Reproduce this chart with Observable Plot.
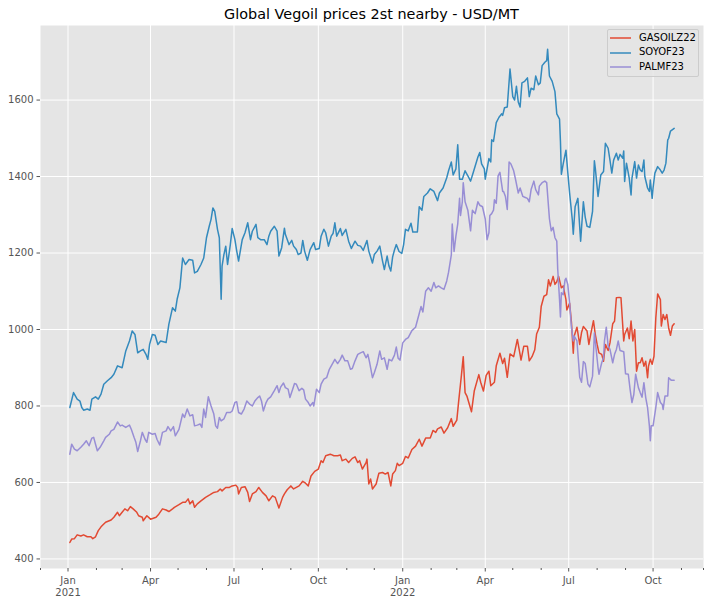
<!DOCTYPE html>
<html>
<head>
<meta charset="utf-8">
<script src="https://cdn.jsdelivr.net/npm/d3@7"></script>
<script src="https://cdn.jsdelivr.net/npm/@observablehq/plot@0.6"></script>
<style>
  html, body { margin: 0; padding: 0; background: #fff; }
  #wrap { position: relative; width: 714px; height: 603px; font-family: "DejaVu Sans", sans-serif; }
  #title { position: absolute; left: 40px; top: 0; width: 663px; height: 25px; box-sizing: border-box; padding-top: 7px;
           text-align: center; font-size: 14.4px; line-height: 1; color: #000; white-space: nowrap; }
  #chart { position: absolute; left: 0; top: 25px; }
  #chart svg { display: block; }
  #legend { position: absolute; left: 607px; top: 29px; width: 92px; height: 48px; box-sizing: border-box;
            border: 1px solid #cccccc; border-radius: 2px; background: rgba(229,229,229,0.85); }
  .lg-sw { position: absolute; left: 1px; width: 23px; height: 4px; overflow: visible; }
  .lg-tx { position: absolute; left: 31px; font-size: 10px; line-height: 12px; color: #000; white-space: nowrap; }
</style>
</head>
<body>
<div id="wrap">
  <div id="title"></div>
  <div id="chart"></div>
  <div id="legend"></div>
</div>
<script>
const chartTitle = "Global Vegoil prices 2st nearby - USD/MT";
const seriesNames = ["GASOILZ22", "SOYOF23", "PALMF23"];
const seriesColors = ["#E24A33", "#348ABD", "#988ED5"];

const yTicks = [400, 600, 800, 1000, 1200, 1400, 1600];
const xMajorTicks = ["2021-01-01", "2021-04-01", "2021-07-01", "2021-10-01", "2022-01-01", "2022-04-01", "2022-07-01", "2022-10-01"];
const xMajorLabels = ["Jan\n2021", "Apr", "Jul", "Oct", "Jan\n2022", "Apr", "Jul", "Oct"];
const xMinorTicks = ["2020-12-02", "2021-02-01", "2021-03-01", "2021-05-01", "2021-06-01", "2021-08-01", "2021-09-01", "2021-11-01", "2021-12-01",
  "2022-02-01", "2022-03-01", "2022-05-01", "2022-06-01", "2022-08-01", "2022-09-01", "2022-11-01", "2022-11-25"];
const xDomain = ["2020-12-02", "2022-11-25"];
const yDomain = [375, 1795];

const gasoil = [
["2021-01-03",443],["2021-01-05",452],["2021-01-08",453],["2021-01-11",463],["2021-01-15",460],["2021-01-18",463],["2021-01-22",458],
["2021-01-26",458],["2021-01-28",453],["2021-01-31",458],["2021-02-03",474],["2021-02-06",484],["2021-02-11",496],["2021-02-17",502],
["2021-02-20",509],["2021-02-24",522],["2021-02-26",513],["2021-03-01",522],["2021-03-04",531],["2021-03-07",526],["2021-03-10",537],
["2021-03-13",531],["2021-03-17",522],["2021-03-19",513],["2021-03-23",509],["2021-03-24",500],["2021-03-28",513],["2021-04-01",504],
["2021-04-07",509],["2021-04-10",517],["2021-04-14",531],["2021-04-18",528],["2021-04-21",524],["2021-04-25",531],["2021-04-27",535],
["2021-05-02",542],["2021-05-06",548],["2021-05-09",548],["2021-05-12",557],["2021-05-14",544],["2021-05-17",552],["2021-05-19",535],
["2021-05-22",544],["2021-05-26",552],["2021-05-31",561],["2021-06-05",568],["2021-06-09",574],["2021-06-13",576],["2021-06-16",583],
["2021-06-18",578],["2021-06-22",587],["2021-06-26",587],["2021-06-29",591],["2021-07-03",593],["2021-07-05",587],["2021-07-06",570],
["2021-07-09",587],["2021-07-13",589],["2021-07-16",574],["2021-07-18",550],["2021-07-21",570],["2021-07-25",576],["2021-07-28",587],
["2021-08-01",574],["2021-08-05",565],["2021-08-08",552],["2021-08-12",565],["2021-08-15",561],["2021-08-19",533],["2021-08-23",561],
["2021-08-25",570],["2021-08-28",581],["2021-09-01",591],["2021-09-04",583],["2021-09-10",591],["2021-09-14",603],["2021-09-17",598],
["2021-09-20",591],["2021-09-23",617],["2021-09-27",629],["2021-10-01",635],["2021-10-04",657],["2021-10-06",652],["2021-10-09",670],
["2021-10-14",674],["2021-10-18",670],["2021-10-22",670],["2021-10-25",672],["2021-10-27",657],["2021-10-31",661],["2021-11-03",652],
["2021-11-07",663],["2021-11-10",667],["2021-11-13",652],["2021-11-15",657],["2021-11-18",635],["2021-11-22",652],["2021-11-23",661],
["2021-11-25",596],["2021-11-27",609],["2021-11-29",583],["2021-12-03",596],["2021-12-06",624],["2021-12-10",626],["2021-12-13",622],
["2021-12-16",626],["2021-12-19",591],["2021-12-21",622],["2021-12-24",631],["2021-12-26",650],["2021-12-28",644],["2022-01-01",650],
["2022-01-04",668],["2022-01-07",664],["2022-01-11",686],["2022-01-15",695],["2022-01-19",713],["2022-01-22",695],["2022-01-26",716],
["2022-01-31",716],["2022-02-03",736],["2022-02-06",731],["2022-02-08",740],["2022-02-12",745],["2022-02-15",729],["2022-02-19",743],
["2022-02-23",767],["2022-02-25",747],["2022-03-01",763],["2022-03-03",812],["2022-03-06",880],["2022-03-08",929],["2022-03-10",835],
["2022-03-12",826],["2022-03-17",785],["2022-03-20",839],["2022-03-25",882],["2022-03-27",862],["2022-03-30",839],["2022-04-02",880],
["2022-04-05",891],["2022-04-07",853],["2022-04-11",862],["2022-04-13",905],["2022-04-17",938],["2022-04-20",911],["2022-04-22",925],
["2022-04-25",875],["2022-04-28",936],["2022-05-02",929],["2022-05-06",974],["2022-05-09",934],["2022-05-10",920],["2022-05-13",956],
["2022-05-17",956],["2022-05-19",918],["2022-05-22",929],["2022-05-25",947],["2022-05-27",988],["2022-05-30",1006],["2022-06-01",1060],
["2022-06-04",1087],["2022-06-07",1091],["2022-06-09",1130],["2022-06-11",1114],["2022-06-14",1139],["2022-06-16",1118],["2022-06-18",1125],
["2022-06-20",1139],["2022-06-23",1109],["2022-06-25",1114],["2022-06-28",1078],["2022-06-29",1051],["2022-07-02",1069],["2022-07-04",1019],
["2022-07-06",938],["2022-07-07",983],["2022-07-10",1006],["2022-07-13",961],["2022-07-15",992],["2022-07-17",1008],["2022-07-21",996],
["2022-07-23",961],["2022-07-25",987],["2022-07-28",1023],["2022-07-30",987],["2022-08-01",961],["2022-08-03",939],["2022-08-06",935],
["2022-08-08",917],["2022-08-10",961],["2022-08-13",945],["2022-08-15",965],["2022-08-18",1015],["2022-08-20",1022],["2022-08-22",1083],
["2022-08-25",1084],["2022-08-27",1083],["2022-08-30",970],["2022-08-31",987],["2022-09-03",1004],["2022-09-05",976],["2022-09-07",1022],
["2022-09-09",970],["2022-09-11",1000],["2022-09-13",891],["2022-09-15",913],["2022-09-17",913],["2022-09-19",926],["2022-09-21",904],
["2022-09-23",917],["2022-09-25",874],["2022-09-26",904],["2022-09-28",922],["2022-09-30",909],["2022-10-02",930],["2022-10-04",1030],
["2022-10-06",1093],["2022-10-09",1078],["2022-10-10",1009],["2022-10-12",1039],["2022-10-14",1026],["2022-10-16",1039],["2022-10-18",1004],
["2022-10-20",985],["2022-10-22",1009],["2022-10-24",1015]
];

const soyoil = [
["2021-01-03",796],["2021-01-07",835],["2021-01-11",818],["2021-01-14",813],["2021-01-16",796],["2021-01-18",789],["2021-01-22",792],
["2021-01-25",789],["2021-01-27",818],["2021-01-31",824],["2021-02-03",818],["2021-02-06",831],["2021-02-09",857],["2021-02-13",866],
["2021-02-17",874],["2021-02-20",883],["2021-02-24",905],["2021-03-01",900],["2021-03-05",944],["2021-03-09",970],["2021-03-12",996],
["2021-03-15",987],["2021-03-18",939],["2021-03-21",944],["2021-03-24",948],["2021-03-27",935],["2021-03-29",922],["2021-03-31",961],
["2021-04-03",987],["2021-04-06",985],["2021-04-09",961],["2021-04-12",970],["2021-04-18",966],["2021-04-21",1014],["2021-04-25",1057],
["2021-04-28",1048],["2021-04-30",1079],["2021-05-03",1109],["2021-05-06",1187],["2021-05-09",1170],["2021-05-13",1183],["2021-05-17",1181],
["2021-05-19",1148],["2021-05-22",1152],["2021-05-26",1170],["2021-05-29",1187],["2021-06-01",1240],["2021-06-04",1270],["2021-06-06",1288],
["2021-06-08",1318],["2021-06-10",1309],["2021-06-13",1262],["2021-06-15",1240],["2021-06-17",1079],["2021-06-18",1166],["2021-06-20",1196],
["2021-06-22",1218],["2021-06-24",1170],["2021-06-27",1222],["2021-06-29",1264],["2021-07-02",1235],["2021-07-04",1205],["2021-07-06",1179],
["2021-07-10",1235],["2021-07-13",1253],["2021-07-16",1279],["2021-07-19",1235],["2021-07-21",1257],["2021-07-25",1275],["2021-07-27",1240],
["2021-07-30",1235],["2021-08-03",1235],["2021-08-06",1222],["2021-08-08",1244],["2021-08-10",1257],["2021-08-14",1270],["2021-08-17",1257],
["2021-08-19",1192],["2021-08-22",1214],["2021-08-25",1265],["2021-08-26",1249],["2021-08-30",1222],["2021-09-02",1233],["2021-09-04",1218],
["2021-09-07",1209],["2021-09-09",1196],["2021-09-12",1200],["2021-09-14",1233],["2021-09-16",1205],["2021-09-19",1181],["2021-09-22",1209],
["2021-09-26",1227],["2021-09-28",1209],["2021-10-02",1212],["2021-10-04",1244],["2021-10-07",1262],["2021-10-09",1253],["2021-10-12",1218],
["2021-10-15",1244],["2021-10-17",1251],["2021-10-19",1279],["2021-10-21",1244],["2021-10-25",1264],["2021-10-27",1246],["2021-10-31",1262],
["2021-11-03",1231],["2021-11-06",1212],["2021-11-10",1231],["2021-11-13",1220],["2021-11-16",1218],["2021-11-19",1207],["2021-11-23",1233],
["2021-11-25",1205],["2021-11-29",1174],["2021-12-01",1196],["2021-12-04",1205],["2021-12-07",1218],["2021-12-10",1179],["2021-12-12",1157],
["2021-12-15",1192],["2021-12-17",1166],["2021-12-19",1153],["2021-12-21",1190],["2021-12-23",1208],["2021-12-25",1222],["2021-12-28",1204],
["2021-12-31",1199],["2022-01-02",1222],["2022-01-04",1262],["2022-01-07",1258],["2022-01-10",1278],["2022-01-12",1255],["2022-01-17",1255],
["2022-01-19",1321],["2022-01-22",1312],["2022-01-24",1348],["2022-01-28",1357],["2022-01-31",1368],["2022-02-04",1361],["2022-02-08",1337],
["2022-02-10",1357],["2022-02-14",1370],["2022-02-18",1397],["2022-02-20",1415],["2022-02-23",1438],["2022-02-25",1404],["2022-02-28",1420],
["2022-03-02",1483],["2022-03-04",1393],["2022-03-07",1393],["2022-03-10",1415],["2022-03-13",1402],["2022-03-16",1388],["2022-03-19",1411],
["2022-03-24",1451],["2022-03-26",1463],["2022-03-28",1433],["2022-03-31",1420],["2022-04-01",1393],["2022-04-05",1447],["2022-04-07",1438],
["2022-04-08",1496],["2022-04-10",1492],["2022-04-13",1541],["2022-04-16",1555],["2022-04-19",1564],["2022-04-20",1560],["2022-04-22",1580],
["2022-04-25",1582],["2022-04-28",1681],["2022-05-01",1609],["2022-05-03",1600],["2022-05-05",1636],["2022-05-07",1595],["2022-05-09",1582],
["2022-05-11",1645],["2022-05-14",1649],["2022-05-17",1658],["2022-05-19",1609],["2022-05-21",1631],["2022-05-24",1627],["2022-05-26",1663],
["2022-05-29",1640],["2022-05-31",1645],["2022-06-02",1690],["2022-06-05",1699],["2022-06-07",1703],["2022-06-08",1733],["2022-06-10",1663],
["2022-06-13",1649],["2022-06-16",1622],["2022-06-18",1564],["2022-06-21",1550],["2022-06-22",1492],["2022-06-23",1406],["2022-06-25",1433],
["2022-06-28",1469],["2022-06-30",1411],["2022-07-02",1357],["2022-07-05",1285],["2022-07-06",1249],["2022-07-08",1321],["2022-07-11",1343],
["2022-07-14",1231],["2022-07-17",1334],["2022-07-19",1294],["2022-07-21",1270],["2022-07-24",1267],["2022-07-27",1309],["2022-07-29",1441],
["2022-07-30",1422],["2022-08-02",1348],["2022-08-05",1404],["2022-08-08",1413],["2022-08-10",1487],["2022-08-13",1474],["2022-08-15",1443],
["2022-08-17",1409],["2022-08-19",1443],["2022-08-22",1461],["2022-08-24",1443],["2022-08-26",1458],["2022-08-29",1448],["2022-08-30",1467],
["2022-08-31",1387],["2022-09-02",1435],["2022-09-05",1396],["2022-09-07",1352],["2022-09-08",1396],["2022-09-11",1439],["2022-09-13",1396],
["2022-09-15",1430],["2022-09-17",1417],["2022-09-19",1413],["2022-09-21",1443],["2022-09-22",1400],["2022-09-25",1370],["2022-09-27",1361],
["2022-09-28",1391],["2022-09-30",1343],["2022-10-01",1370],["2022-10-03",1409],["2022-10-06",1426],["2022-10-09",1417],["2022-10-11",1409],
["2022-10-13",1417],["2022-10-15",1435],["2022-10-17",1496],["2022-10-18",1500],["2022-10-20",1519],["2022-10-24",1526]
];

const palmoil = [
["2021-01-03",674],["2021-01-05",700],["2021-01-08",687],["2021-01-11",683],["2021-01-15",692],["2021-01-18",700],["2021-01-21",709],
["2021-01-24",696],["2021-01-27",716],["2021-01-29",718],["2021-01-31",700],["2021-02-02",683],["2021-02-05",692],["2021-02-09",709],
["2021-02-11",718],["2021-02-15",726],["2021-02-17",735],["2021-02-20",739],["2021-02-24",758],["2021-02-27",748],["2021-03-01",750],
["2021-03-05",744],["2021-03-09",750],["2021-03-11",739],["2021-03-14",718],["2021-03-16",705],["2021-03-18",681],["2021-03-21",709],
["2021-03-23",731],["2021-03-26",713],["2021-03-28",705],["2021-03-30",731],["2021-04-03",726],["2021-04-06",728],["2021-04-08",713],
["2021-04-11",698],["2021-04-14",731],["2021-04-18",735],["2021-04-20",746],["2021-04-23",735],["2021-04-26",746],["2021-04-28",722],
["2021-05-02",739],["2021-05-06",779],["2021-05-08",770],["2021-05-11",792],["2021-05-14",774],["2021-05-17",777],["2021-05-19",748],
["2021-05-22",750],["2021-05-25",753],["2021-05-27",744],["2021-05-29",792],["2021-05-31",770],["2021-06-03",824],["2021-06-06",800],
["2021-06-09",779],["2021-06-11",748],["2021-06-13",742],["2021-06-15",770],["2021-06-17",761],["2021-06-20",766],["2021-06-23",783],
["2021-06-27",783],["2021-06-29",787],["2021-07-02",809],["2021-07-04",811],["2021-07-06",783],["2021-07-09",779],["2021-07-12",792],
["2021-07-15",813],["2021-07-18",805],["2021-07-21",800],["2021-07-24",814],["2021-07-27",822],["2021-07-29",826],["2021-07-31",813],
["2021-08-02",787],["2021-08-05",809],["2021-08-07",818],["2021-08-10",824],["2021-08-14",840],["2021-08-17",853],["2021-08-19",835],
["2021-08-21",850],["2021-08-24",860],["2021-08-26",848],["2021-08-29",844],["2021-08-31",822],["2021-09-03",844],["2021-09-05",859],
["2021-09-07",857],["2021-09-10",840],["2021-09-13",846],["2021-09-15",842],["2021-09-17",818],["2021-09-20",809],["2021-09-22",800],
["2021-09-25",809],["2021-09-26",800],["2021-09-29",844],["2021-10-02",835],["2021-10-04",857],["2021-10-07",870],["2021-10-10",874],
["2021-10-13",896],["2021-10-16",909],["2021-10-19",922],["2021-10-22",911],["2021-10-25",922],["2021-10-27",933],["2021-10-30",918],
["2021-11-02",918],["2021-11-05",896],["2021-11-07",898],["2021-11-10",918],["2021-11-13",935],["2021-11-16",939],["2021-11-19",942],
["2021-11-22",926],["2021-11-24",935],["2021-11-26",913],["2021-11-29",874],["2021-12-01",887],["2021-12-04",909],["2021-12-07",944],
["2021-12-09",922],["2021-12-12",926],["2021-12-15",896],["2021-12-17",922],["2021-12-20",918],["2021-12-23",933],["2021-12-25",954],
["2021-12-27",925],["2021-12-29",920],["2022-01-01",965],["2022-01-04",974],["2022-01-07",979],["2022-01-11",997],["2022-01-15",1006],
["2022-01-19",1042],["2022-01-21",1060],["2022-01-23",1046],["2022-01-26",1100],["2022-01-29",1109],["2022-02-01",1100],["2022-02-04",1123],
["2022-02-06",1109],["2022-02-09",1114],["2022-02-12",1109],["2022-02-15",1105],["2022-02-18",1127],["2022-02-20",1150],["2022-02-23",1195],
["2022-02-24",1276],["2022-02-26",1204],["2022-02-28",1244],["2022-03-02",1276],["2022-03-04",1343],["2022-03-05",1298],["2022-03-07",1334],
["2022-03-08",1384],["2022-03-10",1334],["2022-03-13",1312],["2022-03-16",1258],["2022-03-18",1312],["2022-03-21",1303],["2022-03-24",1334],
["2022-03-26",1325],["2022-03-29",1321],["2022-04-01",1289],["2022-04-03",1235],["2022-04-05",1253],["2022-04-06",1298],["2022-04-08",1303],
["2022-04-10",1312],["2022-04-11",1339],["2022-04-13",1330],["2022-04-15",1402],["2022-04-17",1411],["2022-04-20",1361],["2022-04-21",1361],
["2022-04-23",1348],["2022-04-25",1314],["2022-04-27",1438],["2022-04-29",1433],["2022-05-02",1415],["2022-05-04",1393],["2022-05-07",1357],
["2022-05-09",1370],["2022-05-12",1348],["2022-05-14",1346],["2022-05-17",1343],["2022-05-19",1334],["2022-05-21",1366],["2022-05-24",1388],
["2022-05-26",1366],["2022-05-29",1352],["2022-05-30",1375],["2022-06-02",1384],["2022-06-05",1388],["2022-06-07",1384],["2022-06-10",1289],
["2022-06-12",1258],["2022-06-14",1267],["2022-06-16",1240],["2022-06-18",1231],["2022-06-19",1159],["2022-06-21",1078],["2022-06-22",1033],
["2022-06-23",1096],["2022-06-25",1091],["2022-06-27",1130],["2022-06-28",1134],["2022-06-30",1118],["2022-07-02",1069],["2022-07-04",1006],
["2022-07-06",970],["2022-07-07",983],["2022-07-10",970],["2022-07-13",875],["2022-07-15",862],["2022-07-17",916],["2022-07-19",911],
["2022-07-22",857],["2022-07-24",850],["2022-07-27",878],["2022-07-29",991],["2022-07-30",970],["2022-08-02",900],["2022-08-03",883],
["2022-08-06",913],["2022-08-08",926],["2022-08-09",970],["2022-08-11",1006],["2022-08-13",957],["2022-08-15",948],["2022-08-18",913],
["2022-08-20",935],["2022-08-22",948],["2022-08-24",970],["2022-08-26",945],["2022-08-30",942],["2022-09-01",884],["2022-09-04",883],
["2022-09-06",843],["2022-09-08",809],["2022-09-10",830],["2022-09-12",883],["2022-09-15",848],["2022-09-17",835],["2022-09-19",823],
["2022-09-21",861],["2022-09-23",822],["2022-09-25",796],["2022-09-27",748],["2022-09-28",709],["2022-09-29",748],["2022-10-01",748],
["2022-10-04",796],["2022-10-06",835],["2022-10-09",809],["2022-10-11",804],["2022-10-12",791],["2022-10-14",826],["2022-10-17",826],
["2022-10-18",874],["2022-10-21",867],["2022-10-24",867]
];

const parse = d3.utcParse("%Y-%m-%d");
const seriesData = [gasoil, soyoil, palmoil];
const rows = [];
seriesData.forEach((arr, i) => {
  for (const [d, v] of arr) rows.push({date: parse(d), value: v, series: seriesNames[i]});
});

const majorDates = xMajorTicks.map(parse);
const labelByTime = new Map(majorDates.map((d, i) => [+d, xMajorLabels[i]]));
const minorDates = xMinorTicks.map(parse);

const plot = Plot.plot({
  width: 714,
  height: 578,
  marginLeft: 40,
  marginRight: 11,
  marginTop: 0,
  marginBottom: 35,
  style: {fontFamily: "'DejaVu Sans', sans-serif", fontSize: "10px", color: "#555555", background: "transparent", overflow: "visible"},
  x: {type: "utc", domain: xDomain.map(parse)},
  y: {domain: yDomain},
  color: {domain: seriesNames, range: seriesColors},
  marks: [
    Plot.frame({fill: "#E5E5E5", stroke: null}),
    Plot.ruleY(yTicks, {stroke: "#ffffff", strokeWidth: 1}),
    Plot.ruleX(majorDates, {stroke: "#ffffff", strokeWidth: 1}),
    Plot.axisY(yTicks, {anchor: "left", tickSize: 3.5, tickPadding: 3.5, label: null, tickFormat: d => String(d)}),
    Plot.axisX(majorDates, {anchor: "bottom", tickSize: 3.5, tickPadding: 3.5, label: null, lineHeight: 1.2,
      tickFormat: d => labelByTime.get(+d)}),
    Plot.axisX(minorDates, {anchor: "bottom", tickSize: 2, label: null, tickFormat: () => ""}),
    Plot.line(rows, {x: "date", y: "value", z: "series", stroke: "series", strokeWidth: 1.5})
  ]
});
document.getElementById("chart").appendChild(plot);
document.getElementById("title").textContent = chartTitle;

const legend = document.getElementById("legend");
const rowCenters = [8.3, 22.7, 37.3];
const svgNS = "http://www.w3.org/2000/svg";
seriesNames.forEach((name, i) => {
  const sw = document.createElementNS(svgNS, "svg");
  sw.setAttribute("class", "lg-sw");
  sw.setAttribute("width", "23");
  sw.setAttribute("height", "4");
  sw.style.top = (rowCenters[i] - 2) + "px";
  const ln = document.createElementNS(svgNS, "line");
  ln.setAttribute("x1", "1"); ln.setAttribute("x2", "22");
  ln.setAttribute("y1", "2"); ln.setAttribute("y2", "2");
  ln.setAttribute("stroke", seriesColors[i]);
  ln.setAttribute("stroke-width", "1.5");
  sw.appendChild(ln);
  legend.appendChild(sw);
  const tx = document.createElement("div");
  tx.className = "lg-tx";
  tx.style.top = (rowCenters[i] - 6.5) + "px";
  tx.textContent = name;
  legend.appendChild(tx);
});
</script>
</body>
</html>
